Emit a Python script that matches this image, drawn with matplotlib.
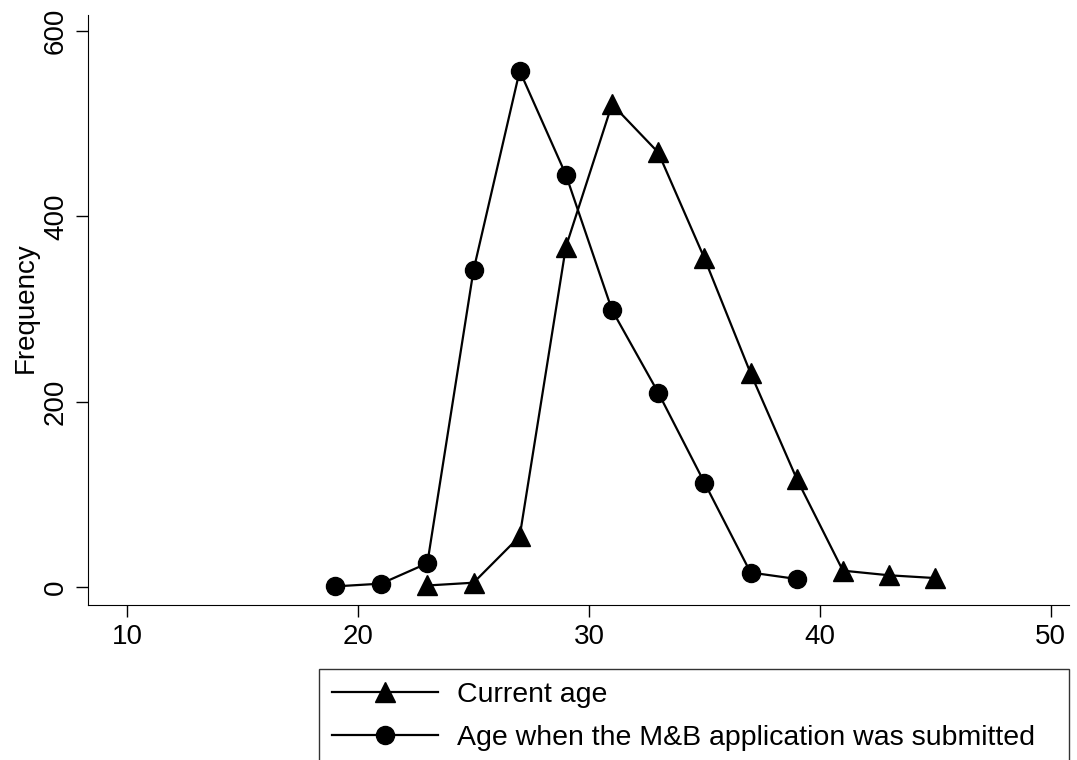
import matplotlib.pyplot as plt
from matplotlib.lines import Line2D

plt.rcParams['font.family'] = ['Liberation Sans', 'DejaVu Sans']

# Frequency by age (2-year bins)
current_age = [23, 25, 27, 29, 31, 33, 35, 37, 39, 41, 43, 45]
current_freq = [2, 5, 55, 367, 521, 469, 355, 231, 117, 18, 13, 10]

submit_age = [19, 21, 23, 25, 27, 29, 31, 33, 35, 37, 39]
submit_freq = [1, 4, 26, 342, 557, 445, 299, 210, 113, 16, 9]

fig = plt.figure(figsize=(10.77, 7.6), dpi=100)
ax = fig.add_axes([0.0817, 0.204, 0.911, 0.776])

ax.plot(current_age, current_freq, color='black', lw=1.6, marker='^', markersize=15)
ax.plot(submit_age, submit_freq, color='black', lw=1.6, marker='o', markersize=13)

ax.set_xlim(8.3, 50.8)
ax.set_ylim(-19, 617)
ax.set_xticks([10, 20, 30, 40, 50])
ax.set_yticks([0, 200, 400, 600])
ax.tick_params(labelsize=20, length=8.6, width=1, direction='out', pad=5)
plt.setp(ax.get_yticklabels(), rotation=90, va='center')
ax.set_ylabel('Frequency', fontsize=20)
ax.yaxis.set_label_coords(-0.05, 0.505)
for s in ['top', 'right']:
    ax.spines[s].set_visible(False)

handles = [Line2D([], [], color='black', lw=1.6, marker='^', markersize=15),
           Line2D([], [], color='black', lw=1.6, marker='o', markersize=13)]
labels = ['Current age', 'Age when the M&B application was submitted']
leg = fig.legend(handles, labels, loc='upper left', bbox_to_anchor=(0.296, 0.002, 0.697, 0.118),
                 mode='expand', fontsize=20.5, frameon=True, fancybox=False, edgecolor='black',
                 handlelength=3.75, handletextpad=0.65, borderaxespad=0, labelspacing=0.62,
                 borderpad=0.45)
leg.get_frame().set_linewidth(1)

fig.savefig('out.png', dpi=100)
